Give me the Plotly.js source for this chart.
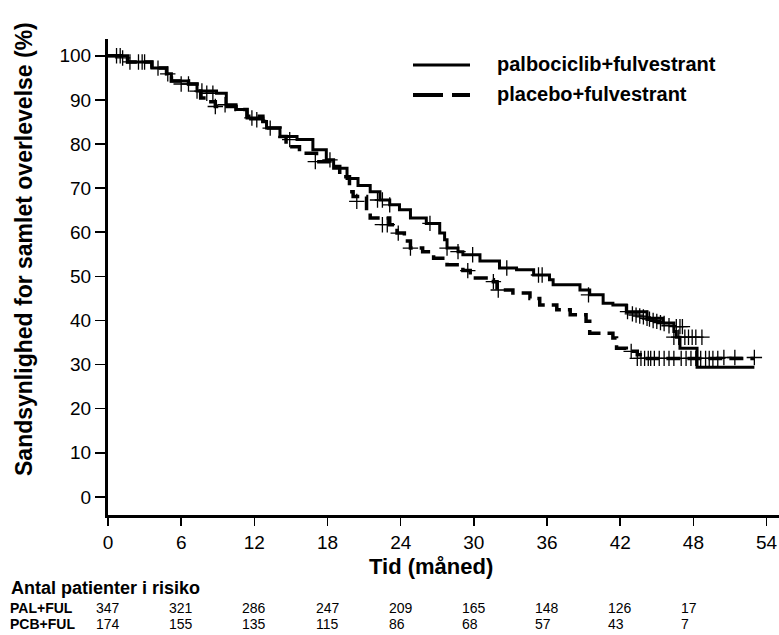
<!DOCTYPE html>
<html>
<head>
<meta charset="utf-8">
<script src="https://cdn.plot.ly/plotly-3.0.1.min.js"></script>
<style>html,body{margin:0;padding:0;background:#fff;}#chart{width:779px;height:635px;}</style>
</head>
<body>
<div id="chart"></div>
<script>
// ---- data ----
const palTime = [0, 1.6, 3.6, 4.8, 5.2, 6.6, 7.3, 8.9, 9.7, 10.5, 11.4, 12.7, 13.0, 14.1, 15.5, 16.8, 17.9, 18.5, 19.6, 20.5, 21.5, 22.3, 23.1, 23.9, 24.8, 26.1, 27.2, 27.6, 27.8, 28.7, 29.1, 30.5, 32.1, 33.5, 34.9, 36.2, 36.5, 38.7, 39.5, 40.6, 41.4, 42.5, 44.2, 45.5, 46.4, 46.6, 46.9, 48.3, 53.0];
const palSurv = [100, 98.6, 97.2, 95.9, 94.3, 93.6, 92.0, 91.5, 88.9, 87.8, 85.9, 85.1, 83.6, 81.7, 81.0, 78.7, 76.4, 74.5, 72.2, 70.6, 69.2, 67.3, 66.2, 65.1, 63.2, 62.0, 59.8, 58.3, 56.4, 55.6, 54.9, 53.5, 51.9, 51.5, 50.3, 49.2, 48.1, 46.9, 45.8, 43.9, 43.5, 42.0, 40.5, 39.4, 37.5, 36.2, 33.7, 29.4, 29.4];

const pcbTime = [0, 1.6, 3.6, 4.8, 5.2, 6.6, 7.3, 7.6, 8.1, 8.8, 10.5, 11.4, 12.7, 13.0, 14.1, 14.6, 15.7, 17.1, 18.2, 19.0, 19.8, 20.1, 21.2, 21.5, 23.1, 23.7, 24.3, 24.8, 25.8, 26.7, 27.8, 29.1, 29.7, 31.0, 31.6, 31.9, 33.2, 34.6, 35.4, 36.8, 37.9, 39.2, 39.5, 41.4, 41.7, 42.5, 43.4, 43.9, 53.0];
const pcbSurv = [100, 98.6, 97.2, 95.9, 94.3, 93.6, 92.0, 90.4, 89.6, 88.5, 87.8, 86.3, 85.1, 83.6, 81.7, 79.4, 77.9, 76.0, 74.9, 72.6, 69.2, 68.1, 64.7, 63.2, 61.7, 59.8, 58.0, 56.4, 55.6, 54.1, 52.6, 51.3, 49.6, 49.2, 48.8, 46.9, 46.2, 45.0, 43.5, 42.4, 41.3, 39.8, 37.1, 36.0, 33.7, 33.0, 32.2, 31.4, 31.4];

const palCensorTime = [0.7, 1.2, 2.5, 3.0, 4.1, 6.0, 7.3, 8.1, 8.6, 11.8, 13.3, 14.9, 18.2, 22.1, 22.5, 23.1, 26.4, 27.8, 28.7, 29.9, 32.7, 35.3, 35.6, 39.4, 42.6, 43.0, 43.3, 43.6, 43.9, 44.2, 44.4, 44.7, 45.0, 45.3, 45.6, 46.0, 46.6, 46.9, 47.1, 46.4, 46.8, 47.3, 47.6, 47.9, 48.2, 48.7];
const palCensorSurv = [100, 99.5, 98.6, 98.6, 97.2, 93.6, 92.0, 91.5, 91.5, 85.9, 83.6, 81.0, 76.4, 67.3, 67.3, 66.2, 62.0, 56.4, 55.6, 54.9, 51.9, 50.3, 50.3, 45.8, 42.0, 41.5, 41.2, 41.0, 40.8, 40.5, 40.3, 40.0, 39.8, 39.5, 39.3, 38.8, 38.6, 38.6, 38.6, 36.2, 36.2, 36.2, 36.2, 36.2, 36.2, 36.2];

const pcbCensorTime = [1.0, 1.8, 2.8, 4.9, 6.6, 7.7, 8.8, 9.6, 12.2, 17.0, 20.4, 22.5, 22.9, 23.8, 24.8, 29.5, 31.6, 32.0, 42.9, 43.4, 43.7, 44.0, 44.3, 44.5, 44.8, 45.2, 45.6, 46.0, 46.4, 47.0, 47.4, 47.8, 48.2, 48.6, 49.0, 49.3, 49.6, 50.0, 50.5, 51.4, 53.0];
const pcbCensorSurv = [100, 98.6, 98.6, 95.9, 93.6, 92.0, 88.5, 88.9, 85.5, 76.0, 67.0, 61.7, 61.7, 59.8, 56.4, 51.3, 48.8, 46.9, 33.0, 31.4, 31.4, 31.4, 31.4, 31.4, 31.4, 31.4, 31.4, 31.4, 31.4, 31.4, 31.4, 31.4, 31.4, 31.4, 31.4, 31.4, 31.4, 31.4, 31.6, 31.6, 31.6];

const xTicks = [0, 6, 12, 18, 24, 30, 36, 42, 48, 54];
const yTicks = [0, 10, 20, 30, 40, 50, 60, 70, 80, 90, 100];
const riskTimes = [0, 6, 12, 18, 24, 30, 36, 42, 48];
const palRisk = [347, 321, 286, 247, 209, 165, 148, 126, 17];
const pcbRisk = [174, 155, 135, 115, 86, 68, 57, 43, 7];
const seriesNames = ['palbociclib+fulvestrant', 'placebo+fulvestrant'];
const riskLabels = ['PAL+FUL', 'PCB+FUL'];

// ---- chart ----
const FONT = 'Arial, "Liberation Sans", sans-serif';
const censorMarker = {symbol: 'cross-thin', size: 11, line: {width: 1.3, color: '#000'}, color: '#000'};

const traces = [
  {x: palTime, y: palSurv, mode: 'lines', line: {shape: 'hv', color: '#000', width: 3}, name: seriesNames[0], hoverinfo: 'skip'},
  {x: pcbTime, y: pcbSurv, mode: 'lines', line: {shape: 'hv', color: '#000', width: 3.5, dash: '14px,7px'}, name: seriesNames[1], hoverinfo: 'skip'},
  {x: palCensorTime, y: palCensorSurv, mode: 'markers', marker: censorMarker, hoverinfo: 'skip'},
  {x: pcbCensorTime, y: pcbCensorSurv, mode: 'markers', marker: censorMarker, hoverinfo: 'skip'}
];

const W = 779, H = 635, L = 108, R = 0, T = 39, B = 120;
const XMAX = 55.02;
const pw = W - L - R, ph = H - T - B;
const px = v => (v - L) / pw;
const py = v => 1 - (v - T) / ph;
// paper x of a data time value, shifted by a pixel offset
const tx = (t, off) => px(L + t / XMAX * pw + off);

const ROW1 = 608, ROW2 = 624;
const annotations = [
  {text: 'Sandsynlighed for samlet overlevelse (%)', textangle: -90, xref: 'paper', yref: 'paper', x: px(24), y: py(249), xanchor: 'center', yanchor: 'middle', showarrow: false, font: {family: FONT, size: 23, color: '#000', weight: 'bold'}},
  {text: 'Tid (måned)', xref: 'paper', yref: 'paper', x: px(431), y: py(566), xanchor: 'center', yanchor: 'middle', showarrow: false, font: {family: FONT, size: 22, color: '#000', weight: 'bold'}},
  {text: seriesNames[0], xref: 'paper', yref: 'paper', x: px(495), y: py(64), xanchor: 'left', yanchor: 'middle', showarrow: false, font: {family: FONT, size: 20, color: '#000', weight: 'bold'}},
  {text: seriesNames[1], xref: 'paper', yref: 'paper', x: px(495), y: py(94), xanchor: 'left', yanchor: 'middle', showarrow: false, font: {family: FONT, size: 20, color: '#000', weight: 'bold'}},
  {text: 'Antal patienter i risiko', xref: 'paper', yref: 'paper', x: px(9), y: py(588), xanchor: 'left', yanchor: 'middle', showarrow: false, font: {family: FONT, size: 18, color: '#000', weight: 'bold'}},
  {text: riskLabels[0], xref: 'paper', yref: 'paper', x: px(9), y: py(ROW1), xanchor: 'left', yanchor: 'middle', showarrow: false, borderpad: 0, font: {family: FONT, size: 14, color: '#000', weight: 'bold'}},
  {text: riskLabels[1], xref: 'paper', yref: 'paper', x: px(9), y: py(ROW2), xanchor: 'left', yanchor: 'middle', showarrow: false, borderpad: 0, font: {family: FONT, size: 14, color: '#000', weight: 'bold'}}
];
riskTimes.forEach((t, i) => {
  annotations.push({text: String(palRisk[i]), xref: 'paper', yref: 'paper', x: tx(t, -13), y: py(ROW1), xanchor: 'left', yanchor: 'middle', showarrow: false, borderpad: 0, font: {family: FONT, size: 14, color: '#000'}});
  annotations.push({text: String(pcbRisk[i]), xref: 'paper', yref: 'paper', x: tx(t, -13), y: py(ROW2), xanchor: 'left', yanchor: 'middle', showarrow: false, borderpad: 0, font: {family: FONT, size: 14, color: '#000'}});
});

const shapes = [
  {type: 'line', xref: 'paper', yref: 'paper', x0: px(413), x1: px(470), y0: py(65), y1: py(65), line: {color: '#000', width: 3}},
  {type: 'line', xref: 'paper', yref: 'paper', x0: px(413), x1: px(470), y0: py(95), y1: py(95), line: {color: '#000', width: 4, dash: '30px,9px'}}
];

const layout = {
  width: W, height: H,
  margin: {l: L, r: R, t: T, b: B, pad: 0},
  paper_bgcolor: '#fff', plot_bgcolor: '#fff',
  showlegend: false,
  font: {family: FONT, color: '#000'},
  xaxis: {
    range: [0, XMAX], tickmode: 'array', tickvals: xTicks, ticktext: xTicks.map(String),
    ticks: 'outside', ticklen: 8, tickwidth: 1.5, tickcolor: '#000',
    showline: true, linewidth: 3, linecolor: '#000', mirror: false,
    showgrid: false, zeroline: false, tickfont: {family: FONT, size: 19, color: '#000'}
  },
  yaxis: {
    range: [-4.1, 103.8], tickmode: 'array', tickvals: yTicks, ticktext: yTicks.map(String),
    ticks: 'outside', ticklen: 10, tickwidth: 1.5, tickcolor: '#000',
    showline: true, linewidth: 3, linecolor: '#000',
    showgrid: false, zeroline: false, tickfont: {family: FONT, size: 19, color: '#000'}
  },
  annotations: annotations,
  shapes: shapes
};

Plotly.newPlot('chart', traces, layout, {displayModeBar: false, staticPlot: true});
</script>
</body>
</html>
